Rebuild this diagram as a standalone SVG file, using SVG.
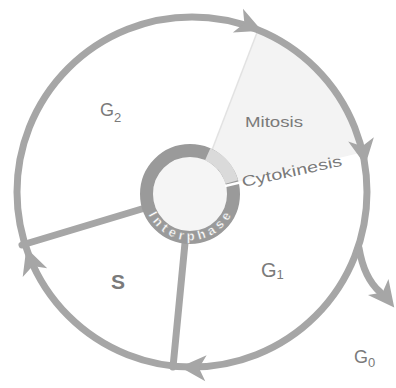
<svg xmlns="http://www.w3.org/2000/svg" width="396" height="388" viewBox="0 0 396 388">
<style>
.lbl{font-family:"Liberation Sans",Arial,sans-serif;fill:#7a7a7a}
.conn{stroke:#a6a6a6;stroke-width:7;fill:none;stroke-linecap:round}
.ah{fill:#a6a6a6}
</style>
<defs>
<path id="ah" d="M2,0 L-24,-13 L-17,0 L-24,13 Z"/>
</defs>
<rect width="396" height="388" fill="#ffffff"/>
<g id="mitosis-wedge">
<path d="M212,150 L258,30 A175 175 0 0 1 364,152 L238,182 A50 50 0 0 0 212,150 Z" fill="#f3f3f3"/>
<line x1="212" y1="150" x2="258" y2="30" stroke="#e2e2e2" stroke-width="1.5"/>
</g>
<g id="connectors">
<circle class="conn" cx="192" cy="192" r="175"/>
<line class="conn" x1="22" y1="245" x2="145" y2="208"/>
<line class="conn" x1="185" y1="243" x2="173" y2="367"/>
<path class="conn" d="M359,248 Q364,278 380,292"/>
<g class="ah">
<use href="#ah" transform="translate(260,30) rotate(23)"/>
<use href="#ah" transform="translate(365,163) rotate(80.5)"/>
<use href="#ah" transform="translate(182,367) rotate(183)"/>
<use href="#ah" transform="translate(27,250) rotate(250.6)"/>
<use href="#ah" transform="translate(393,306) rotate(52)"/>
</g>
</g>
<g id="interphase-ring">
<circle cx="190" cy="194" r="37" fill="#f5f5f5"/>
<circle cx="190" cy="194" r="43.5" fill="none" stroke="#9a9a9a" stroke-width="13"/>
<path d="M207.7,154.3 A43.5 43.5 0 0 1 231.8,182.0" fill="none" stroke="#dadada" stroke-width="13"/>
<line x1="225" y1="186" x2="241" y2="182.3" stroke="#ffffff" stroke-width="2.5"/>
<path id="ipath" d="M147.9,213.7 A46.5 46.5 0 0 0 232.1,213.7" fill="none"/>
<text font-family="Liberation Sans,Arial,sans-serif" font-size="13" font-weight="bold" fill="#ffffff" stroke="#a0a0a0" stroke-width="0.4"><textPath href="#ipath" startOffset="1" textLength="102" lengthAdjust="spacing">Interphase</textPath></text>
</g>
<g id="G2"><text class="lbl" x="100" y="116" font-size="18">G<tspan font-size="13" dy="6">2</tspan></text></g>
<g id="Mitosis"><text class="lbl" x="245" y="127" font-size="15" textLength="58" lengthAdjust="spacingAndGlyphs" fill="#8a8a8a">Mitosis</text></g>
<g id="Cytokinesis"><text class="lbl" x="243" y="187" font-size="15" transform="rotate(-12 243 187)" textLength="102" lengthAdjust="spacingAndGlyphs">Cytokinesis</text></g>
<g id="S"><text class="lbl" x="111" y="289" font-size="21" font-weight="bold" fill="#6e6e6e">S</text></g>
<g id="G1"><text class="lbl" x="261" y="277" font-size="20">G<tspan font-size="13" dy="2">1</tspan></text></g>
<g id="G0"><text class="lbl" x="354" y="363" font-size="18">G<tspan font-size="13" dy="4">0</tspan></text></g>
</svg>
